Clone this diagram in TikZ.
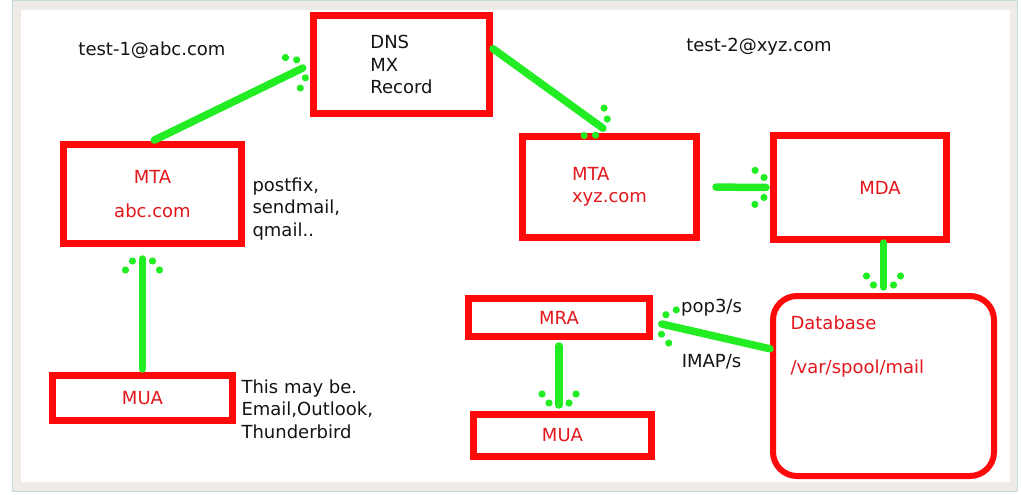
\documentclass[tikz,border=0pt]{standalone}
\usepackage{fontspec}
\setmainfont{DejaVu Sans}
\usetikzlibrary{positioning,calc,decorations.markings}
\definecolor{boxred}{HTML}{FF0A0A}
\definecolor{txtred}{HTML}{E3171C}
\definecolor{lgreen}{HTML}{22EC22}
\definecolor{frame}{HTML}{EFECE8}
\definecolor{rim}{HTML}{C3DED8}
\newcommand{\tipdots}{\foreach \a/\b in {-2/10,-2/-10,-11/17,-11/-17} \fill[lgreen] (\a,\b) circle (3.6pt);}
\tikzset{
    box/.style =   {rectangle,
                    fill=white,
                    draw=boxred,
                    text=txtred,
                    line width=7pt,
                    inner sep=4pt},
    store/.style = {box,
                    rounded corners=24pt,
                    line width=6pt},
    note/.style =  {text=black!92,
                    align=left},
    flow/.style =  {draw=lgreen,
                    line width=7.5pt,
                    line cap=round,
                    shorten >=#1,
                    postaction={decorate,
                    decoration={markings, mark=at position -#1 with {\tipdots}}}},
    flow/.default=8pt,
    every node/.style={font=\fontsize{18}{22.5}\selectfont}}

\begin{document}
\begin{tikzpicture}[x=1pt,y=-1pt]
                \useasboundingbox (0,0) rectangle (1021,495);
                \fill[frame, draw=rim, line width=1pt] (12,1) rectangle (1017,491);
                \fill[white] (21,10) rectangle (1010,482);
                \node[box, minimum width=176pt, minimum height=98pt, text=black!92, align=left] (dns) at (401.5,64.5) {DNS\\MX\\Record};
                \node[box, minimum width=178pt, minimum height=99pt, align=center] (mta1) at (152.5,194) {MTA\\[12pt]abc.com};
                \node[box, minimum width=180pt, minimum height=45pt] (mua1) at (142.5,398) {MUA};
                \node[box, minimum width=174pt, minimum height=101pt, align=left] (mta2) at (609.5,187) {MTA\\xyz.com};
                \node[box, minimum width=173pt, minimum height=104pt, label={[text=txtred, xshift=20pt]center:MDA}] (mda) at (860,187.5) {};
                \node[store, minimum width=221pt, minimum height=180pt] (db) at (883.5,386) {};
                \node[box, minimum width=181pt, minimum height=38pt] (mra) at (559,317.5) {MRA};
                \node[box, minimum width=178pt, minimum height=42pt] (mua2) at (562.5,435.5) {MUA};
                \node[note] (addr1) at (152,50) {test-1@abc.com};
                \node[note] (addr2) at (759,47) {test-2@xyz.com};
                \node[note, right=4pt of mta1, yshift=-15pt] (mtanote) {postfix,\\sendmail,\\qmail..};
                \node[note, right=2pt of mua1, yshift=-11pt] (muanote) {This may be.\\Email,Outlook,\\Thunderbird};
                \node[note, text=txtred, below right=19pt and 17pt of db.north west] (dbtext) {Database\\[22pt]/var/spool/mail};
                \draw[flow=12pt, shorten <=3pt] (mua1.north) -- (mua1.north |- mta1.south);
                \draw[flow=8pt, shorten <=2pt] (mta1.north) -- (dns.west);
                \draw[flow=8pt] ($(dns.east)!0.3!(dns.north east)$) -- (mta2.north);
                \draw[flow=4pt, shorten <=16pt] (mta2.east) -- (mda.west);
                \draw[flow=6pt] (mda.south -| db.north) -- (db.north);
                \draw[flow=9pt] ($(db.north west)!0.3!(db.south west)$) -- node[note, above=12pt] {pop3/s} node[note, below=12pt] {IMAP/s} ($(mra.east)!0.2!(mra.south east)$);
                \draw[flow=6pt, shorten <=6pt] (mra.south) -- (mra.south |- mua2.north);
\end{tikzpicture}
\end{document}
